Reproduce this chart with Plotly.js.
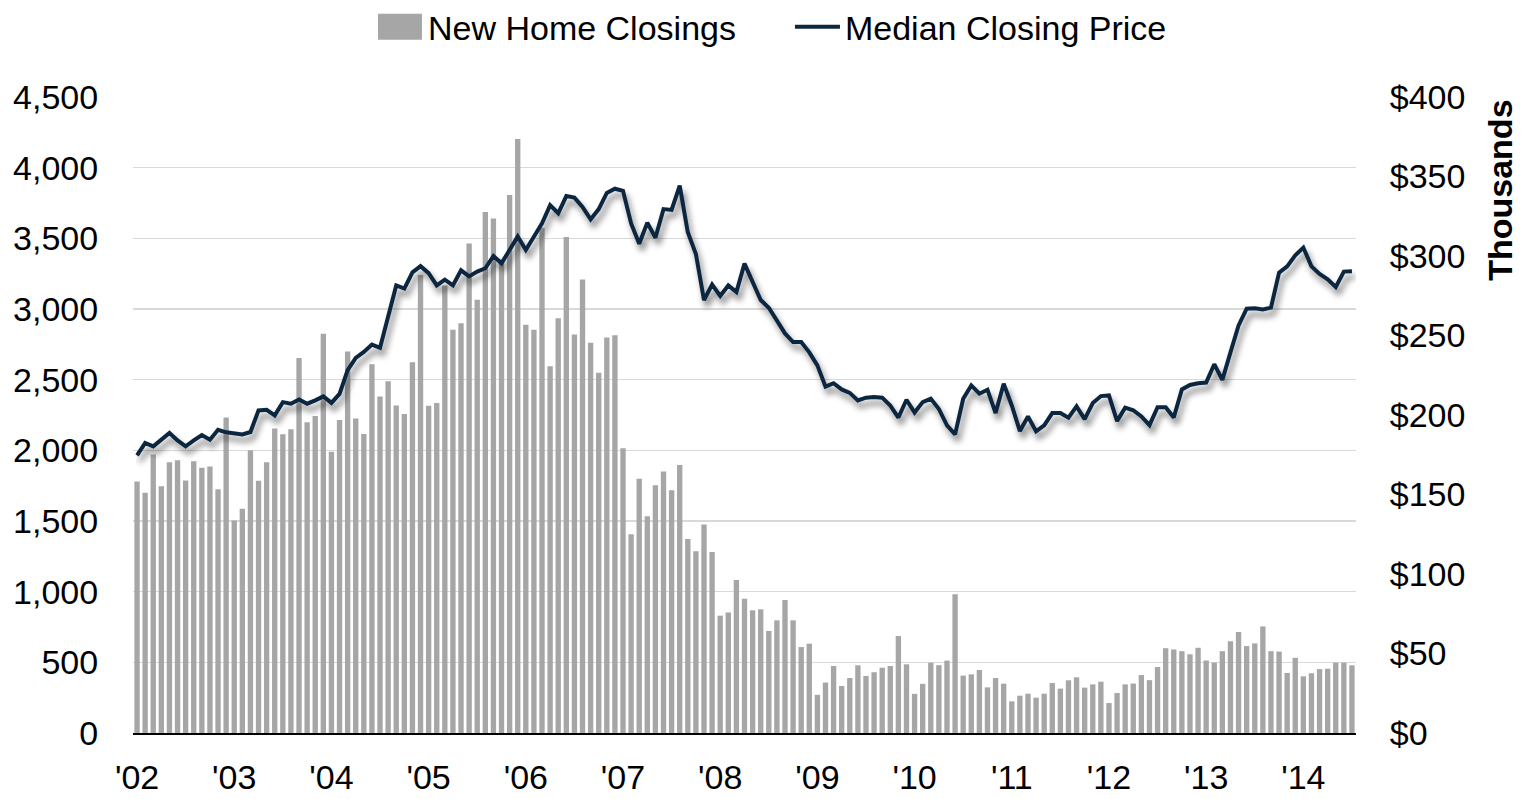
<!DOCTYPE html>
<html>
<head>
<meta charset="utf-8">
<script src="https://cdn.plot.ly/plotly-3.0.1.min.js"></script>
<style>
  html, body { margin: 0; padding: 0; background: #ffffff; }
  #chart { width: 1525px; height: 799px; }
</style>
</head>
<body>
<div id="chart"></div>
<script>
// Years covered (Jan 2002 - Jul 2014), monthly
const years = [2002, 2003, 2004, 2005, 2006, 2007, 2008, 2009, 2010, 2011, 2012, 2013, 2014];
const yearTickText = ["'02", "'03", "'04", "'05", "'06", "'07", "'08", "'09", "'10", "'11", "'12", "'13", "'14"];

// New Home Closings (units), by month
const closings2002 = [1780, 1700, 1970, 1745, 1915, 1930, 1787, 1922, 1877, 1886, 1724, 2233];
const closings2003 = [1504, 1587, 2000, 1785, 1915, 2155, 2113, 2150, 2653, 2198, 2243, 2825];
const closings2004 = [1990, 2215, 2699, 2226, 2116, 2609, 2381, 2488, 2318, 2257, 2624, 3240];
const closings2005 = [2315, 2335, 3166, 2854, 2900, 3463, 3065, 3687, 3641, 3350, 3806, 4203];
const closings2006 = [2889, 2854, 3575, 2595, 2935, 3509, 2820, 3209, 2762, 2549, 2799, 2814];
const closings2007 = [2015, 1407, 1799, 1534, 1753, 1851, 1718, 1897, 1372, 1286, 1476, 1280];
const closings2008 = [830, 853, 1083, 950, 868, 875, 722, 797, 941, 797, 608, 632];
const closings2009 = [270, 357, 474, 333, 389, 479, 404, 430, 462, 474, 686, 486];
const closings2010 = [277, 348, 497, 480, 512, 981, 406, 415, 446, 323, 389, 349];
const closings2011 = [224, 264, 278, 250, 278, 354, 314, 373, 394, 321, 344, 363];
const closings2012 = [212, 283, 344, 350, 410, 374, 467, 600, 591, 579, 557, 603];
const closings2013 = [513, 498, 579, 649, 715, 615, 634, 754, 579, 576, 425, 532];
const closings2014 = [401, 423, 452, 455, 498, 498, 479];

// Median Closing Price ($ thousands), by month
const price2002 = [174.6, 182.4, 180.3, 184.5, 188.7, 184.0, 180.3, 184.0, 187.4, 184.5, 190.7, 189.1];
const price2003 = [188.2, 187.8, 189.3, 202.9, 203.3, 199.8, 208.1, 207.1, 209.8, 207.1, 209.2, 211.7];
const price2004 = [207.6, 213.3, 228.2, 235.9, 239.7, 244.3, 242.3, 262.0, 281.5, 279.5, 289.7, 293.6];
const price2005 = [289.2, 281.5, 285.1, 281.5, 291.0, 287.2, 290.2, 292.3, 300.0, 295.4, 303.8, 312.3];
const price2006 = [303.8, 312.0, 320.5, 332.0, 326.9, 337.7, 336.7, 330.8, 323.0, 329.5, 339.7, 342.3];
const price2007 = [341.0, 320.5, 307.7, 321.0, 311.5, 329.5, 329.0, 344.3, 314.9, 301.3, 272.3, 282.0];
const price2008 = [274.9, 281.5, 277.3, 295.2, 283.7, 272.3, 267.5, 259.3, 251.3, 245.9, 245.9, 239.4];
const price2009 = [231.2, 217.8, 220.0, 216.1, 213.9, 209.2, 210.9, 211.3, 210.9, 205.9, 198.4, 209.6];
const price2010 = [201.6, 208.1, 210.3, 203.8, 193.5, 187.8, 210.2, 218.6, 213.4, 215.9, 201.2, 219.7];
const price2011 = [206.0, 189.9, 199.1, 189.7, 193.5, 201.2, 201.2, 198.3, 205.4, 197.4, 207.5, 211.9];
const price2012 = [212.3, 196.2, 204.6, 203.0, 199.1, 193.6, 204.9, 204.9, 198.4, 216.1, 218.9, 220.0];
const price2013 = [220.4, 231.9, 222.1, 239.4, 256.3, 266.9, 267.1, 266.4, 267.5, 289.6, 293.5, 300.4];
const price2014 = [305.3, 293.5, 288.7, 285.3, 280.5, 290.2, 290.4];

const leftTicks = [0, 500, 1000, 1500, 2000, 2500, 3000, 3500, 4000, 4500];
const rightTicks = [0, 50, 100, 150, 200, 250, 300, 350, 400];
const rightTickText = ['$0', '$50', '$100', '$150', '$200', '$250', '$300', '$350', '$400'];

const closings = [].concat(closings2002, closings2003, closings2004, closings2005, closings2006,
  closings2007, closings2008, closings2009, closings2010, closings2011, closings2012, closings2013, closings2014);
const price = [].concat(price2002, price2003, price2004, price2005, price2006, price2007, price2008,
  price2009, price2010, price2011, price2012, price2013, price2014);

// month category labels
const months = [];
years.forEach(function (yr) {
  for (let m = 1; m <= 12; m++) {
    if (months.length < closings.length) months.push(yr + '-' + (m < 10 ? '0' + m : m));
  }
});
const yearTickVals = years.map(function (yr) { return yr + '-01'; });

const FONT = '"Liberation Sans", Arial, sans-serif';
const FS = 34;

const traces = [
  {
    type: 'bar', name: 'New Home Closings', x: months, y: closings,
    marker: { color: '#a6a6a6', line: { width: 0 } }, yaxis: 'y', legendwidth: 357
  },
  {
    type: 'scatter', mode: 'lines', name: 'Median Closing Price', x: months, y: price,
    line: { color: '#0c2840', width: 4 }, yaxis: 'y2'
  }
];

const layout = {
  width: 1525, height: 799,
  margin: { l: 133, r: 169, t: 97, b: 66, autoexpand: false },
  paper_bgcolor: '#ffffff', plot_bgcolor: '#ffffff',
  font: { family: FONT, size: FS, color: '#000000' },
  bargap: 0.34,
  showlegend: true,
  legend: {
    orientation: 'h', x: 0.1962, xanchor: 'left', y: 1.11, yanchor: 'middle',
    font: { family: FONT, size: FS, color: '#000000' }, itemwidth: 45,
    bgcolor: 'rgba(0,0,0,0)', traceorder: 'normal', borderwidth: 0
  },
  xaxis: {
    type: 'category', tickmode: 'array', tickvals: yearTickVals, ticktext: yearTickText,
    showgrid: false, showline: true, linecolor: '#000000', linewidth: 2,
    ticks: 'outside', ticklen: 13, tickcolor: 'rgba(0,0,0,0)',
    tickfont: { family: FONT, size: FS, color: '#000000' }, zeroline: false,
    range: [-0.5, closings.length - 0.5]
  },
  yaxis: {
    range: [0, 4500], tickmode: 'array', tickvals: leftTicks, tickformat: ',',
    showgrid: true, gridcolor: '#d9d9d9', gridwidth: 1.5, zeroline: false, showline: false,
    ticks: 'outside', ticklen: 27, tickcolor: 'rgba(0,0,0,0)',
    tickfont: { family: FONT, size: FS, color: '#000000' }
  },
  yaxis2: {
    overlaying: 'y', side: 'right', range: [0, 400], tickmode: 'array',
    tickvals: rightTicks, ticktext: rightTickText,
    showgrid: false, zeroline: false, showline: false,
    ticks: 'outside', ticklen: 26, tickcolor: 'rgba(0,0,0,0)',
    tickfont: { family: FONT, size: FS, color: '#000000' }
  },
  annotations: [
    {
      text: '<b>Thousands</b>', xref: 'paper', yref: 'paper', x: 1.1177, y: 0.854,
      xanchor: 'center', yanchor: 'middle', textangle: -90, showarrow: false,
      font: { family: FONT, size: FS, color: '#000000' }
    }
  ]
};

const SVGNS = 'http://www.w3.org/2000/svg';
function addShadowFilter(gd) {
  const svg = gd.querySelector('svg.main-svg');
  if (!svg) return null;
  let defs = svg.querySelector('defs');
  if (!defs) { defs = document.createElementNS(SVGNS, 'defs'); svg.insertBefore(defs, svg.firstChild); }
  const f = document.createElementNS(SVGNS, 'filter');
  f.setAttribute('id', 'priceLineShadow');
  f.setAttribute('filterUnits', 'userSpaceOnUse');
  f.setAttribute('x', '0'); f.setAttribute('y', '0');
  f.setAttribute('width', '1525'); f.setAttribute('height', '799');
  const blur = document.createElementNS(SVGNS, 'feGaussianBlur');
  blur.setAttribute('in', 'SourceAlpha'); blur.setAttribute('stdDeviation', '3'); blur.setAttribute('result', 'b');
  const off = document.createElementNS(SVGNS, 'feOffset');
  off.setAttribute('in', 'b'); off.setAttribute('dx', '3'); off.setAttribute('dy', '6'); off.setAttribute('result', 'o');
  const ct = document.createElementNS(SVGNS, 'feComponentTransfer');
  ct.setAttribute('in', 'o'); ct.setAttribute('result', 's');
  const fa = document.createElementNS(SVGNS, 'feFuncA');
  fa.setAttribute('type', 'linear'); fa.setAttribute('slope', '0.5');
  ct.appendChild(fa);
  const merge = document.createElementNS(SVGNS, 'feMerge');
  const m1 = document.createElementNS(SVGNS, 'feMergeNode'); m1.setAttribute('in', 's');
  const m2 = document.createElementNS(SVGNS, 'feMergeNode'); m2.setAttribute('in', 'SourceGraphic');
  merge.appendChild(m1); merge.appendChild(m2);
  f.appendChild(blur); f.appendChild(off); f.appendChild(ct); f.appendChild(merge);
  defs.appendChild(f);
  return 'priceLineShadow';
}

Plotly.newPlot('chart', traces, layout, { displayModeBar: false, staticPlot: true }).then(function (gd) {
  // enlarge the bar legend swatch to match the reference's block
  const items = gd.querySelectorAll('.legend .traces');
  if (items.length) {
    const p = items[0].querySelector('.legendpoints path');
    if (p) {
      p.removeAttribute('transform');
      p.setAttribute('d', 'M5,-13h44v26h-44Z');
      p.style.strokeWidth = '0';
    }
  }
  // soft drop shadow under the price line, as in the reference
  const fid = addShadowFilter(gd);
  if (fid) {
    gd.querySelectorAll('.scatterlayer .trace').forEach(function (el) {
      el.setAttribute('filter', 'url(#' + fid + ')');
    });
  }
});
</script>
</body>
</html>
